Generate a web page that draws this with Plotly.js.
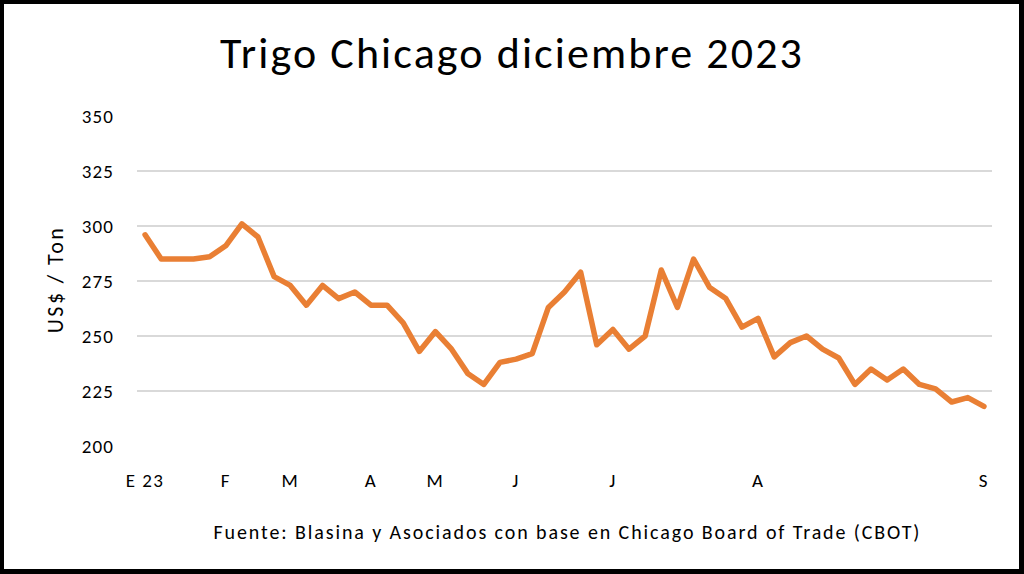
<!DOCTYPE html>
<html>
<head>
<meta charset="utf-8">
<script src="https://cdn.plot.ly/plotly-3.0.1.min.js"></script>
<style>
  html, body { margin: 0; padding: 0; background: #fff; }
  #wrap { position: relative; width: 1024px; height: 574px; }
  #chart { width: 1024px; height: 574px; }
  #frame { position: absolute; left: 0; top: 0; width: 1024px; height: 574px; box-sizing: border-box;
           border-style: solid; border-color: #000; border-width: 4px 5px 5px 4px; pointer-events: none; }
  #chart .scatterlayer path.js-line { stroke-linejoin: round; stroke-linecap: round; }
</style>
</head>
<body>
<div id="wrap">
  <div id="chart"></div>
  <div id="frame"></div>
</div>
<script>
// Weekly CBOT wheat Dec-2023 contract, US$/ton
const prices = [
  296, 285, 285, 285, 286, 291, 301, 295, 277, 273,
  264, 273, 267, 270, 264, 264, 256, 243, 252, 244,
  233, 228, 238, 239.5, 242, 263, 270, 279, 246, 253,
  244, 250, 280, 263, 285, 272, 267, 254, 258, 240.5,
  247, 250, 244, 240, 228, 235, 230, 235, 228, 226,
  220, 222, 218
];
const weekIndex = prices.map((_, i) => i);

// Month labels and the week at which each one is written
const monthLabels = ['E 23', 'F', 'M', 'A', 'M', 'J', 'J', 'A', 'S'];
const monthWeeks  = [0, 5, 9, 14, 18, 23, 29, 38, 52];

const yTicks = [200, 225, 250, 275, 300, 325, 350];

const titleText  = 'Trigo Chicago diciembre 2023';
const yTitleText = 'US$ / Ton';
const sourceText = 'Fuente: Blasina y Asociados con base en Chicago Board of Trade (CBOT)';

const FONT = 'Carlito, Calibri, Lato, sans-serif';

const trace = {
  x: weekIndex,
  y: prices,
  type: 'scatter',
  mode: 'lines',
  line: { color: '#E97F34', width: 5.5 },
  hoverinfo: 'skip'
};

const layout = {
  width: 1024,
  height: 574,
  margin: { l: 137, r: 32, t: 116, b: 128 },
  paper_bgcolor: '#ffffff',
  plot_bgcolor: '#ffffff',
  showlegend: false,
  font: { family: FONT, color: '#000' },
  title: {
    text: titleText,
    font: { family: FONT, size: 44, color: '#000' },
    x: 0.5, xanchor: 'center',
    xref: 'container',
    y: 1 - 53 / 574, yanchor: 'middle', yref: 'container'
  },
  xaxis: {
    range: [-0.5, 52.5],
    tickmode: 'array',
    tickvals: monthWeeks,
    ticktext: monthLabels,
    ticks: '',
    showgrid: false,
    zeroline: false,
    showline: false,
    tickfont: { family: FONT, size: 19, color: '#000' },
    ticklabelstandoff: 21
  },
  yaxis: {
    range: [200, 350],
    tickmode: 'array',
    tickvals: yTicks,
    ticks: '',
    showgrid: true,
    gridcolor: '#D9D9D9',
    gridwidth: 1.5,
    zeroline: false,
    showline: false,
    tickfont: { family: FONT, size: 19, color: '#000' },
    ticklabelstandoff: 22
  },
  annotations: [
    {
      text: yTitleText,
      xref: 'paper', yref: 'paper',
      x: (55 - 137) / 855, y: 0.505,
      xanchor: 'center', yanchor: 'middle',
      textangle: -90,
      showarrow: false,
      font: { family: FONT, size: 22, color: '#000' }
    },
    {
      text: sourceText,
      xref: 'paper', yref: 'paper',
      x: (567 - 137) / 855, y: (446 - 532) / 330,
      xanchor: 'center', yanchor: 'middle',
      showarrow: false,
      font: { family: FONT, size: 20, color: '#000' }
    }
  ]
};

Plotly.newPlot('chart', [trace], layout, { displayModeBar: false, staticPlot: true }).then(gd => {
  // widen the lettering to match the reference's wide typeface
  const spacing = (sel, px) => gd.querySelectorAll(sel).forEach(t => { t.style.letterSpacing = px + 'px'; });
  spacing('.gtitle', 2.1);
  spacing('.xtick text', 1.4);
  spacing('.ytick text', 1.1);
  const ann = gd.querySelectorAll('.annotation-text');
  if (ann[0]) ann[0].style.letterSpacing = '2.4px';
  if (ann[1]) ann[1].style.letterSpacing = '1.9px';
});
</script>
</body>
</html>
